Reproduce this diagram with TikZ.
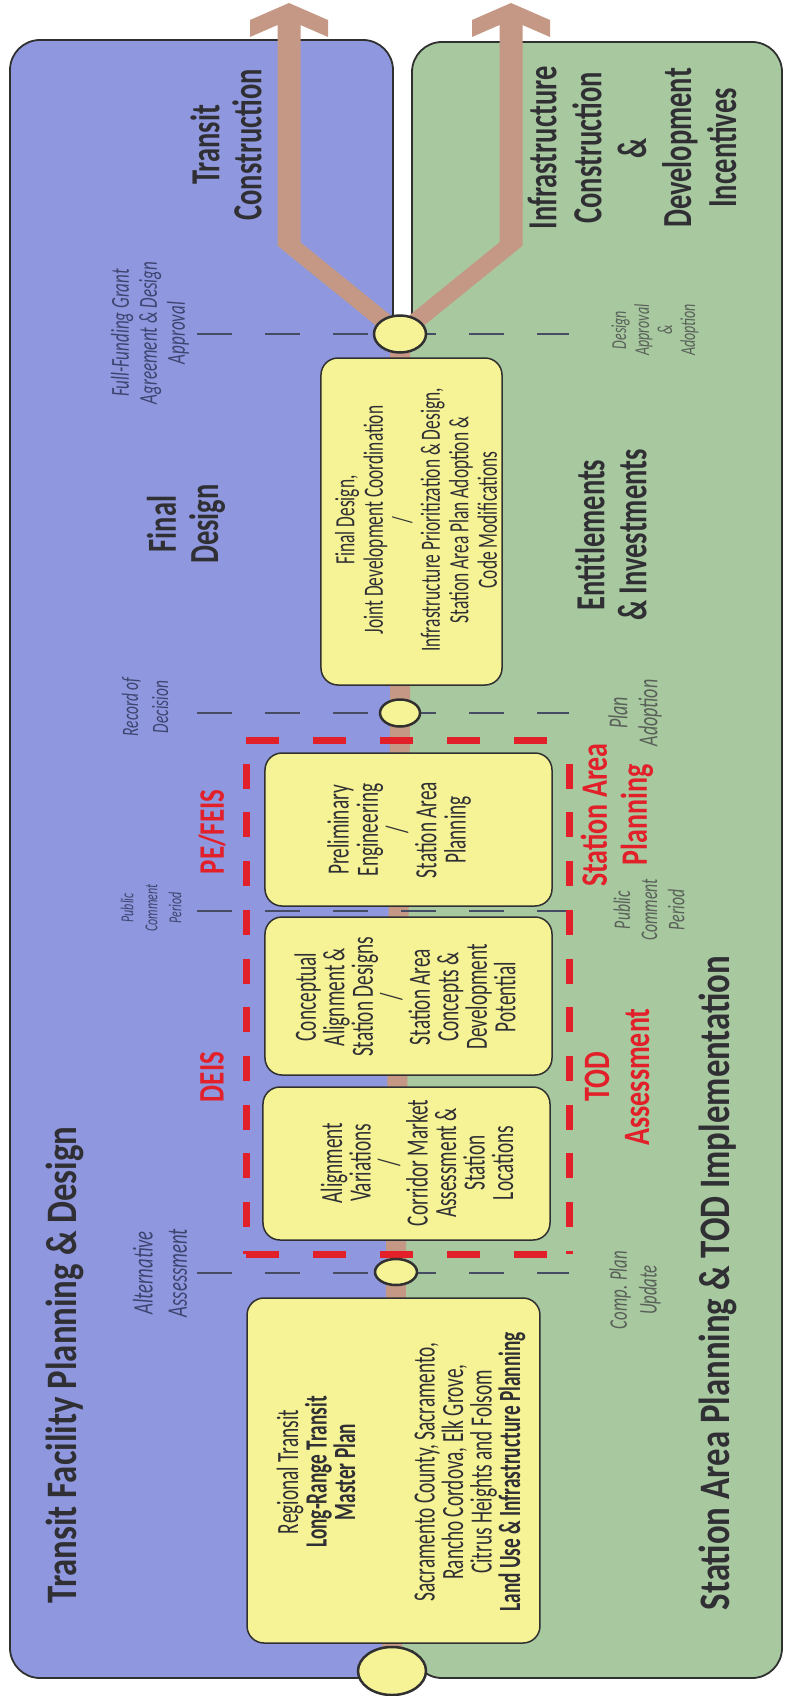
\documentclass[tikz,border=0pt]{standalone}
\usepackage{fontspec}
\setmainfont{Carlito}
\usetikzlibrary{shapes.geometric}
\definecolor{bluep}{RGB}{143,152,222}
\definecolor{greenp}{RGB}{168,200,160}
\definecolor{ybox}{RGB}{246,243,150}
\definecolor{brownl}{RGB}{196,152,132}
\definecolor{redd}{RGB}{226,32,42}
\definecolor{outl}{RGB}{48,48,48}
\definecolor{txt}{RGB}{48,48,52}
\definecolor{mileblue}{RGB}{62,68,112}
\definecolor{milegreen}{RGB}{88,96,88}
\definecolor{dashc}{RGB}{70,76,100}
\newcommand\myfs[2]{\fontsize{#1pt}{#2pt}\selectfont\lineskiplimit=-100pt\lineskip=0pt}
\begin{document}
\begin{tikzpicture}[x=1pt,y=-1pt,
  rt/.style={rotate=90, yscale=#1, inner sep=0pt, align=center},
  rt/.default=1.25,
  ttl/.style={rt=1.25, text=txt, font=\bfseries\myfs{34.8}{36}},
  lbl/.style={rt=1.45, text=txt, font=\bfseries\myfs{28.5}{29}},
  redl/.style={rt=1.33, text=redd, font=\bfseries\myfs{28}{30}},
  mileb/.style={rt=1.52, text=mileblue},
  mileg/.style={rt=1.52, text=milegreen},
  boxt/.style={rt=1.6, text=txt},
  boxn/.style={rotate=90, yscale=1.35, draw=outl, fill=ybox, line width=1.5pt, rounded corners=17pt, inner sep=0pt},
  ell/.style={ellipse, draw=outl, fill=ybox, line width=2.5pt, inner sep=0pt},
  gdash/.style={draw=dashc, line width=2.5pt, dash pattern=on 35pt off 33pt},
  rdh/.style={draw=redd, line width=7pt, dash pattern=on 33pt off 34pt},
  rdv/.style={draw=redd, line width=7pt, dash pattern=on 25pt off 23.7pt, dash phase=25pt},
  arrowfill/.style={fill=brownl}
]
\useasboundingbox (0,0) rectangle (785,1696);

% panels
\filldraw[fill=bluep, draw=outl, line width=1.8pt, rounded corners=30pt] (10,40) rectangle (393,1678);
\filldraw[fill=greenp, draw=outl, line width=1.8pt, rounded corners=30pt] (412,42) rectangle (782,1678);
\fill[bluep] (391,330) rectangle (402,1650);
\fill[greenp] (402,330) rectangle (414,1650);

% milestone coordinates
\coordinate (p1) at (400,334);
\coordinate (p2) at (400,713);
\coordinate (p3) at (396,1272);
\coordinate (p4) at (392,1671);

% centre process line
\draw[brownl, line width=20pt] (p4) -- (p3) -- (p2) -- (p1);

% milestone dashed lines
\draw[gdash] (197,334) -- (569,334);
\draw[gdash] (197,713) -- (569,713);
\draw[gdash] (197,911) -- (569,911);
\draw[gdash] (197,1273) -- (569,1273);

% red dashed frame
\coordinate (r1) at (246,740);
\coordinate (r2) at (569,740);
\coordinate (r3) at (569,1254);
\coordinate (r4) at (246,1254);
\draw[rdh] (r1) -- (r2);
\draw[rdh] (r4) -- (r3);
\draw[rdv] (r1) -- (r4);
\draw[rdv] (r2) -- (r3);

% boxes (minimum width = vertical extent, minimum height = horizontal extent / 1.35)
\node[boxn, minimum width=327pt, minimum height=134.1pt] (bfinal) at (411.5,521.5) {};
\node[boxn, minimum width=153pt, minimum height=212.6pt] (bpe) at (408.5,829.5) {};
\node[boxn, minimum width=158pt, minimum height=212.6pt] (bconc) at (408.5,996) {};
\node[boxn, minimum width=153pt, minimum height=212.6pt] (balign) at (406.5,1163.5) {};
\node[boxn, minimum width=345pt, minimum height=217pt] (breg) at (393.5,1470.5) {};

% box texts
\node[boxt, font=\myfs{17.4}{17.8}] (tfinal) at (416,520)
  {Final Design,\\Joint Development Coordination\\/\\Infrastructure Prioritization \& Design,\\Station Area Plan Adoption \&\\Code Modifications};
\node[boxt, font=\myfs{19.3}{18.3}] (tpe) at (399,830)
  {Preliminary\\Engineering\\/\\Station Area\\Planning};
\node[boxt, font=\myfs{19.3}{17.8}] (tconc) at (405,997)
  {Conceptual\\Alignment \&\\Station Designs\\/\\Station Area\\Concepts \&\\Development\\Potential};
\node[boxt, font=\myfs{19.3}{17.8}] (talign) at (417,1163)
  {Alignment\\Variations\\/\\Corridor Market\\Assessment \&\\Station\\Locations};
\node[boxt, font=\myfs{19.3}{17.8}] (treg) at (401,1472)
  {Regional Transit\\\textbf{Long-Range Transit}\\\textbf{Master Plan}\\[32pt]Sacramento County, Sacramento,\\Rancho Cordova, Elk Grove,\\Citrus Heights and Folsom\\\textbf{Land Use \& Infrastructure Planning}};

% arrows out of the final milestone
\fill[arrowfill] (289,3) -- (328,20) -- (328,37) -- (300.5,25) -- (300.5,242.3) -- (400,323) -- (400,345) -- (277.5,245.7) -- (277.5,25) -- (250,37) -- (250,20) -- cycle;
\fill[arrowfill] (511,3) -- (472,20) -- (472,37) -- (499.5,25) -- (499.5,242.3) -- (400,323) -- (400,345) -- (522.5,245.7) -- (522.5,25) -- (550,37) -- (550,20) -- cycle;

% milestone circles
\node[ell, minimum width=52pt, minimum height=37pt] (c1) at (p1) {};
\node[ell, minimum width=40pt, minimum height=27pt] (c2) at (p2) {};
\node[ell, minimum width=42pt, minimum height=26pt] (c3) at (p3) {};
\node[ell, minimum width=68pt, minimum height=48pt] (c4) at (p4) {};

% titles
\node[ttl] (t1) at (64.5,1365) {Transit Facility Planning \& Design};
\node[ttl] (t2) at (718,1283) {Station Area Planning \& TOD Implementation};

% phase labels
\node[lbl] (lt) at (226,145) {Transit\\Construction};
\node[lbl, font=\bfseries\myfs{28.5}{31}] (li) at (632,148) {Infrastructure\\Construction\\\&\\Development\\Incentives};
\node[lbl] (lf) at (186,524) {Final\\Design};
\node[lbl] (le) at (611,535) {Entitlements\\\& Investments};

% red labels
\node[redl, font=\bfseries\myfs{27}{30}] (deis) at (212,1077) {DEIS};
\node[redl, font=\bfseries\myfs{27}{30}] (pefeis) at (212,832) {PE/FEIS};
\node[redl] (toda) at (617,1077) {TOD\\Assessment};
\node[redl] (sap) at (617,815) {Station Area\\Planning};

% milestone labels, transit side
\node[mileb, font=\itshape\myfs{17}{18.4}] (m1) at (150,333) {Full-Funding Grant\\Agreement \& Design\\Approval};
\node[mileb, font=\itshape\myfs{15.4}{19.7}] (m2) at (145,707) {Record of\\Decision};
\node[mileb, font=\itshape\myfs{12}{15.8}] (m3) at (151,908) {Public\\Comment\\Period};
\node[mileb, font=\itshape\myfs{18.7}{22.4}] (m4) at (160,1273) {Alternative\\Assessment};

% milestone labels, station area side
\node[mileg, font=\itshape\myfs{14}{15.1}] (g1) at (655,330) {Design\\Approval\\\&\\Adoption};
\node[mileg, font=\itshape\myfs{18}{19.7}] (g2) at (635,713) {Plan\\Adoption};
\node[mileg, font=\itshape\myfs{15.7}{17.8}] (g3) at (649,910) {Public\\Comment\\Period};
\node[mileg, font=\itshape\myfs{16.7}{19.7}] (g4) at (635,1290) {Comp. Plan\\Update};
\end{tikzpicture}
\end{document}
